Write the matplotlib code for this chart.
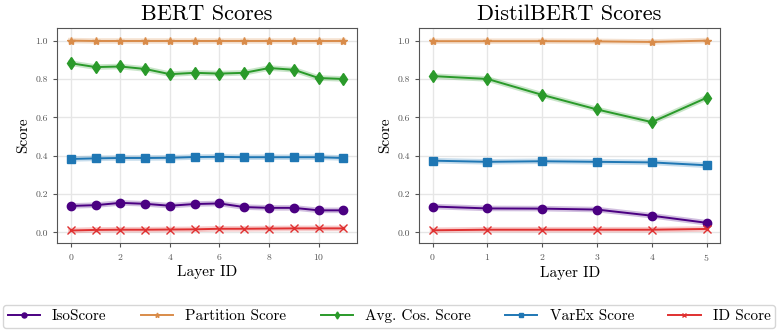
import matplotlib
matplotlib.use('Agg')
import matplotlib.pyplot as plt
import numpy as np

plt.rcParams['font.family'] = 'cmr10'
plt.rcParams['mathtext.fontset'] = 'cm'
plt.rcParams['axes.formatter.use_mathtext'] = True

labels = ['IsoScore', 'Partition Score', 'Avg. Cos. Score', 'VarEx Score', 'ID Score']
colors = ['#4b0082', '#d98c4a', '#2a9a2a', '#1f77b4', '#e03030']
markers = ['o', '*', 'd', 's', 'x']

bert_layers = np.arange(12)
bert_iso = [0.138, 0.142, 0.154, 0.149, 0.139, 0.148, 0.151, 0.132, 0.128, 0.128, 0.115, 0.115]
bert_part = [1.0, 0.998, 0.998, 0.998, 0.998, 0.998, 0.998, 0.998, 0.998, 0.998, 0.998, 0.998]
bert_cos = [0.882, 0.862, 0.865, 0.852, 0.825, 0.832, 0.828, 0.832, 0.857, 0.848, 0.805, 0.800]
bert_varex = [0.383, 0.386, 0.388, 0.388, 0.389, 0.393, 0.394, 0.392, 0.392, 0.392, 0.392, 0.388]
bert_id = [0.010, 0.013, 0.014, 0.014, 0.015, 0.016, 0.019, 0.019, 0.020, 0.021, 0.021, 0.021]

distil_layers = np.arange(6)
distil_iso = [0.135, 0.125, 0.124, 0.119, 0.087, 0.050]
distil_part = [0.997, 0.997, 0.997, 0.996, 0.993, 1.0]
distil_cos = [0.815, 0.800, 0.717, 0.641, 0.575, 0.702]
distil_varex = [0.374, 0.368, 0.371, 0.368, 0.365, 0.350]
distil_id = [0.011, 0.014, 0.014, 0.014, 0.014, 0.018]

fig = plt.figure(figsize=(7.83, 3.31), dpi=100)
ax1 = fig.add_axes([0.073, 0.266, 0.383, 0.649])
ax2 = fig.add_axes([0.535, 0.266, 0.385, 0.649])


def draw(ax, x, series, title, xticks):
    for y, lab, c, m in zip(series, labels, colors, markers):
        ax.plot(x, y, color=c, lw=4, alpha=0.25)
        ax.plot(x, y, color=c, marker=m, ms=6, lw=1.4, label=lab)
    ax.set_title(title, fontsize=16)
    ax.set_xlabel('Layer ID', fontsize=11, labelpad=2)
    ax.set_ylabel('Score', fontsize=11)
    ax.set_ylim(-0.055, 1.065)
    ax.set_yticks([0.0, 0.2, 0.4, 0.6, 0.8, 1.0])
    ax.set_yticklabels(['0.0', '0.2', '0.4', '0.6', '0.8', '1.0'])
    ax.set_xticks(xticks)
    ax.grid(True, color='#e6e6e6', lw=1.0)
    ax.set_axisbelow(True)
    ax.tick_params(labelsize=7, colors='#555555', length=3)
    for sp in ax.spines.values():
        sp.set_color('#555555')


draw(ax1, bert_layers, [bert_iso, bert_part, bert_cos, bert_varex, bert_id], 'BERT Scores', [0, 2, 4, 6, 8, 10])
draw(ax2, distil_layers, [distil_iso, distil_part, distil_cos, distil_varex, distil_id], 'DistilBERT Scores', [0, 1, 2, 3, 4, 5])

handles, labs = ax1.get_legend_handles_labels()
fig.legend(handles, labs, loc='upper left', bbox_to_anchor=(0.004, 0.079), ncol=5,
           fontsize=11, frameon=True, handlelength=2.1, handletextpad=0.8,
           columnspacing=2.25, borderaxespad=0, borderpad=0.3, markerscale=0.6)

fig.savefig('out.png', dpi=100)
